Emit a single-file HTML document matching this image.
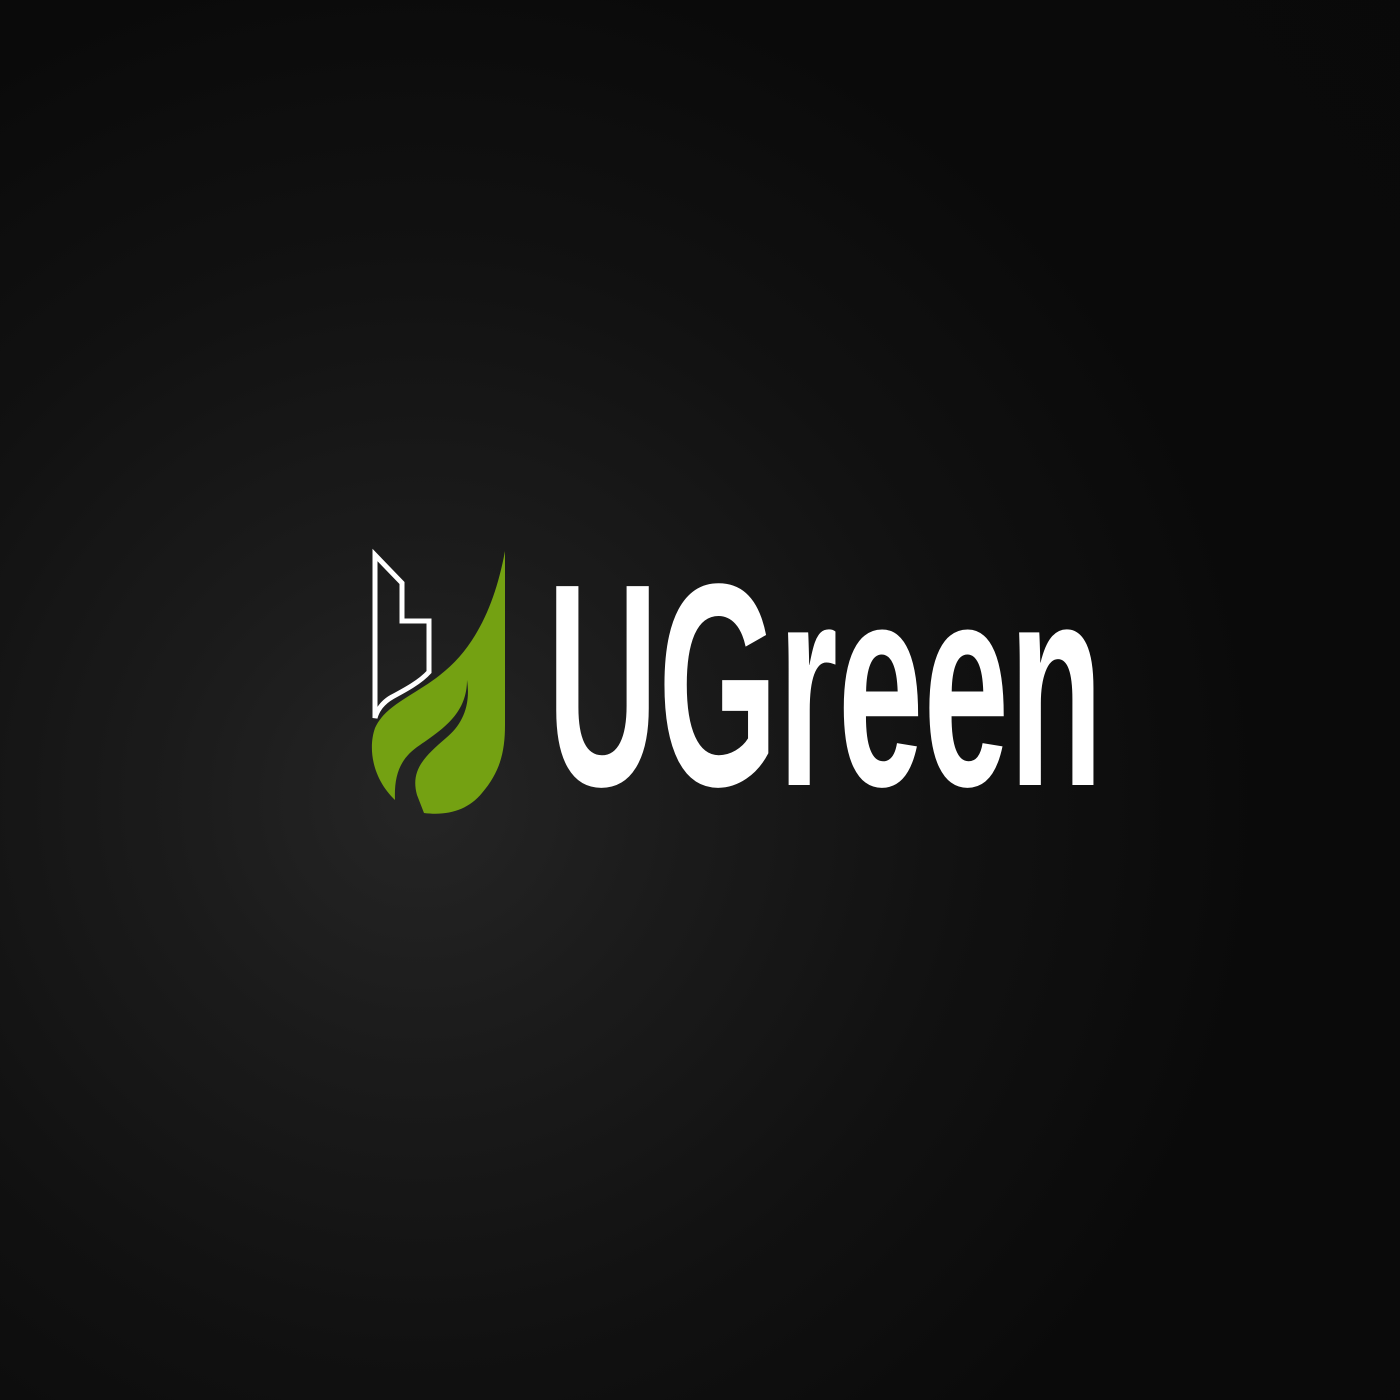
<!DOCTYPE html>
<html>
<head>
<meta charset="utf-8">
<style>
  html,body{margin:0;padding:0;width:1400px;height:1400px;overflow:hidden;background:#0b0b0b;}
  #bg{position:absolute;left:0;top:0;width:1400px;height:1400px;
      background:radial-gradient(circle at 420px 800px,#252525 0px,#1b1b1b 250px,#111111 550px,#0a0a0a 850px,#090909 1400px);}
  svg{position:absolute;left:0;top:0;}
</style>
</head>
<body>
<div id="bg"></div>
<svg width="1400" height="1400" viewBox="0 0 1400 1400">
  <g>
    <path
      d="M375,555 L402,583 L402,621 L429,621 L429,672 C420,682 405,690 392,697 C383,702 377,710 375,718 Z"
      fill="none" stroke="#ffffff" stroke-width="5" stroke-linejoin="miter"/>
    <path
      d="M505,551 C495,605 475,648 440,675 C415,695 385,705 375,728 C368,748 372,778 395,800
         C394,775 400,758 420,745 C445,728 467,712 467,680
         C471,706 462,725 446,738 C425,756 410,770 417,795 L424,813
         C448,816 468,810 482,793 C500,772 505,752 505,725 Z"
      fill="#74a112"/>
  </g>
  <text x="547" y="785" textLength="556" lengthAdjust="spacingAndGlyphs"
    font-family="'Liberation Sans', Arial, sans-serif" font-weight="700" font-size="289" fill="#ffffff">UGreen</text>
</svg>
</body>
</html>
